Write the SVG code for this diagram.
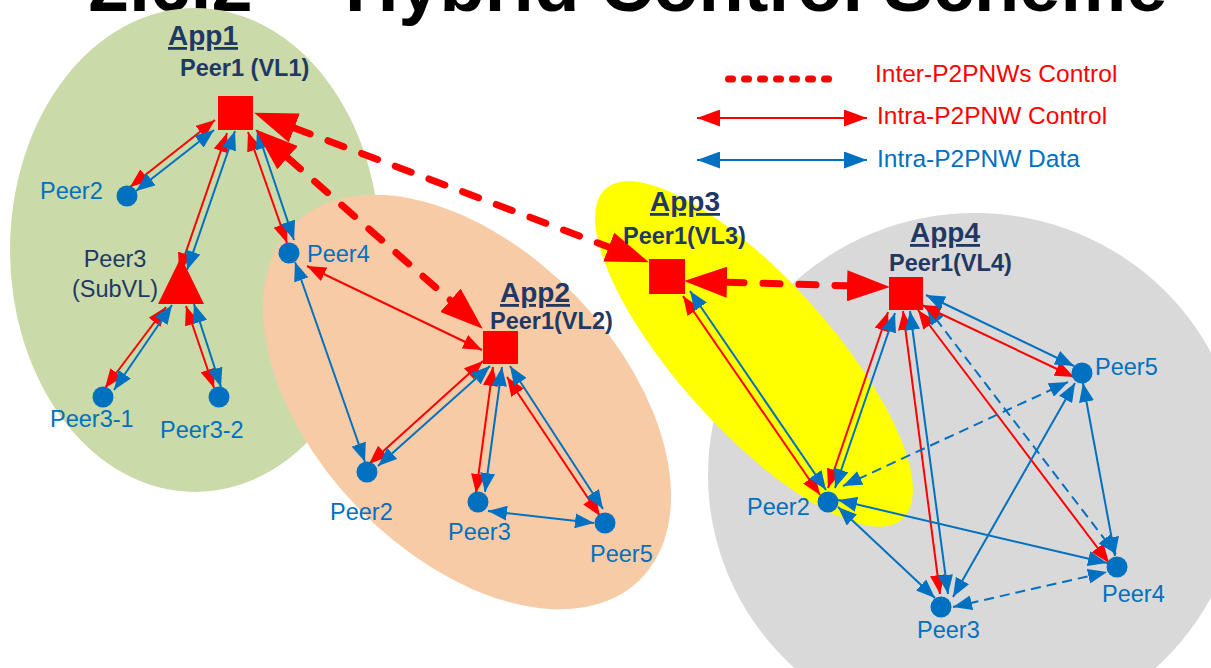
<svg xmlns="http://www.w3.org/2000/svg" width="1211" height="668" viewBox="0 0 1211 668">
<style>
.lbl{font-family:"Liberation Sans",Arial,sans-serif;font-size:23.5px;fill:#0070C0}
.nv{font-family:"Liberation Sans",Arial,sans-serif;font-size:23.5px;fill:#1F3864}
.app{font-family:"Liberation Sans",Arial,sans-serif;font-size:28px;font-weight:bold;fill:#1F3864;text-decoration:underline}
.vl{font-family:"Liberation Sans",Arial,sans-serif;font-size:23.5px;font-weight:bold;fill:#1F3864}
.leg{font-family:"Liberation Sans",Arial,sans-serif;font-size:24.5px}
.r{stroke:#FF0000;stroke-width:2;fill:none;marker-start:url(#rh);marker-end:url(#rh)}
.b{stroke:#0070C0;stroke-width:2;fill:none;marker-start:url(#bh);marker-end:url(#bh)}
.bd{stroke-dasharray:10 6}
.inter{stroke:#FF0000;stroke-width:7;stroke-linecap:round;stroke-dasharray:17 19;fill:none;marker-start:url(#ih);marker-end:url(#ih)}
.sq{fill:#FF0000}
.dot{fill:#0070C0}
</style>
<defs>
<marker id="rh" viewBox="0 0 19 15" markerWidth="19" markerHeight="15" refX="19" refY="7.5" orient="auto-start-reverse" markerUnits="userSpaceOnUse"><path d="M0,0L19,7.5L0,15z" fill="#FF0000"/></marker>
<marker id="bh" viewBox="0 0 19 15" markerWidth="19" markerHeight="15" refX="19" refY="7.5" orient="auto-start-reverse" markerUnits="userSpaceOnUse"><path d="M0,0L19,7.5L0,15z" fill="#0070C0"/></marker>
<marker id="ih" viewBox="0 0 43 31" markerWidth="43" markerHeight="31" refX="0" refY="15.5" orient="auto-start-reverse" markerUnits="userSpaceOnUse"><path d="M0,0L43,15.5L0,31z" fill="#FF0000"/></marker>
<marker id="rl" viewBox="0 0 23 17" markerWidth="23" markerHeight="17" refX="23" refY="8.5" orient="auto-start-reverse" markerUnits="userSpaceOnUse"><path d="M0,0L23,8.5L0,17z" fill="#FF0000"/></marker>
<marker id="bl" viewBox="0 0 23 17" markerWidth="23" markerHeight="17" refX="23" refY="8.5" orient="auto-start-reverse" markerUnits="userSpaceOnUse"><path d="M0,0L23,8.5L0,17z" fill="#0070C0"/></marker>
</defs>
<rect width="1211" height="668" fill="#FFFFFF"/>
<text font-family="Liberation Sans, Arial, sans-serif" font-size="74" font-weight="bold" fill="#000000" y="11"><tspan x="88">2.6.2</tspan><tspan x="345">Hybrid Control Scheme</tspan></text>
<g id="regions">
<ellipse id="app1-region" cx="195" cy="250" rx="185" ry="242" fill="#CADAA9"/>
<ellipse id="app2-region" cx="467" cy="402" rx="248" ry="152" transform="rotate(46 467 402)" fill="#F8CBA7"/>
<ellipse id="app4-region" cx="975" cy="475" rx="267" ry="262" fill="#D9D9D9"/>
<ellipse id="app3-region" cx="754" cy="354" rx="222" ry="76" transform="rotate(48 754 354)" fill="#FFFF00"/>
</g>
<g id="legend">
<line x1="728.5" y1="79" x2="832" y2="79" stroke="#FF0000" stroke-width="7" stroke-linecap="round" stroke-dasharray="4 12"/>
<text class="leg" x="875" y="82" fill="#FF0000">Inter-P2PNWs Control</text>
<line x1="697" y1="118" x2="867" y2="118" stroke="#FF0000" stroke-width="2" marker-start="url(#rl)" marker-end="url(#rl)"/>
<text class="leg" x="877" y="124" fill="#FF0000">Intra-P2PNW Control</text>
<line x1="697" y1="160" x2="867" y2="160" stroke="#0070C0" stroke-width="2" marker-start="url(#bl)" marker-end="url(#bl)"/>
<text class="leg" x="877" y="167" fill="#0070C0">Intra-P2PNW Data</text>
</g>
<g id="connectors">
<line class="r" x1="215" y1="120" x2="130" y2="187"/>
<line class="b" x1="214" y1="130" x2="136" y2="191"/>
<line class="r" x1="227" y1="133" x2="179" y2="272"/>
<line class="b" x1="235" y1="131" x2="187" y2="270"/>
<line class="r" x1="248" y1="132" x2="287" y2="243"/>
<line class="b" x1="257" y1="130" x2="294" y2="240"/>
<line class="r" x1="166" y1="307" x2="105" y2="388"/>
<line class="b" x1="172" y1="305" x2="114" y2="390"/>
<line class="r" x1="186" y1="306" x2="214" y2="388"/>
<line class="b" x1="194" y1="304" x2="221" y2="387"/>
<line class="r" x1="307" y1="266" x2="482" y2="350"/>
<line class="b" x1="295" y1="262" x2="365" y2="462"/>
<line class="r" x1="483" y1="361" x2="369" y2="464"/>
<line class="b" x1="490" y1="366" x2="378" y2="466"/>
<line class="r" x1="493" y1="367" x2="476" y2="493"/>
<line class="b" x1="502" y1="367" x2="485" y2="492"/>
<line class="r" x1="507" y1="377" x2="600" y2="516"/>
<line class="b" x1="510" y1="366" x2="603" y2="509"/>
<line class="b" x1="488" y1="511" x2="594" y2="523"/>
<line class="r" x1="683" y1="296" x2="820" y2="495"/>
<line class="b" x1="690" y1="291" x2="826" y2="490"/>
<line class="r" x1="888" y1="312" x2="828" y2="488"/>
<line class="b" x1="895" y1="313" x2="835" y2="488"/>
<line class="r" x1="903" y1="311" x2="940" y2="594"/>
<line class="b" x1="910" y1="311" x2="948" y2="594"/>
<line class="r" x1="918" y1="310" x2="1109" y2="563"/>
<line class="b bd" x1="926" y1="306" x2="1116" y2="554"/>
<line class="r" x1="922" y1="305" x2="1074" y2="377"/>
<line class="b" x1="926" y1="295" x2="1074" y2="366"/>
<line class="b bd" x1="843" y1="486" x2="1068" y2="382"/>
<line class="b" x1="838" y1="500" x2="1107" y2="563"/>
<line class="b" x1="838" y1="507" x2="935" y2="598"/>
<line class="b" x1="953" y1="597" x2="1075" y2="383"/>
<line class="b" x1="1083" y1="383" x2="1115" y2="556"/>
<line class="b bd" x1="953" y1="607" x2="1107" y2="572"/>
<line class="inter" x1="294.3" y1="127.9" x2="608.7" y2="247.1"/>
<line class="inter" x1="287.6" y1="157.7" x2="450.4" y2="300.3"/>
<line class="inter" x1="727" y1="282.2" x2="847" y2="285.8"/>
</g>
<g id="app1-peer1"><rect class="sq" x="218" y="96" width="35" height="34"/><text class="app" x="168" y="45">App1</text><text class="vl" x="180" y="76">Peer1 (VL1)</text></g>
<g id="app1-peer2"><circle class="dot" cx="127" cy="196" r="10.5"/><text class="lbl" x="40" y="199">Peer2</text></g>
<g id="app1-peer3"><polygon points="181,257 158,304 204,304" fill="#FF0000"/><text class="nv" x="115" y="267" text-anchor="middle">Peer3</text><text class="nv" x="115" y="297" text-anchor="middle">(SubVL)</text></g>
<g id="app1-peer3-1"><circle class="dot" cx="103" cy="397" r="10.5"/><text class="lbl" x="50" y="427">Peer3-1</text></g>
<g id="app1-peer3-2"><circle class="dot" cx="219" cy="397" r="10.5"/><text class="lbl" x="160" y="438">Peer3-2</text></g>
<g id="peer4-app1-app2"><circle class="dot" cx="289" cy="253" r="10.5"/><text class="lbl" x="307" y="262">Peer4</text></g>
<g id="app2-peer1"><rect class="sq" x="483" y="331" width="35" height="33"/><text class="app" x="500" y="302">App2</text><text class="vl" x="490" y="329">Peer1(VL2)</text></g>
<g id="app2-peer2"><circle class="dot" cx="367" cy="472" r="10.5"/><text class="lbl" x="330" y="520">Peer2</text></g>
<g id="app2-peer3"><circle class="dot" cx="478" cy="502" r="10.5"/><text class="lbl" x="448" y="540">Peer3</text></g>
<g id="app2-peer5"><circle class="dot" cx="605" cy="523" r="10.5"/><text class="lbl" x="590" y="562">Peer5</text></g>
<g id="app3-peer1"><rect class="sq" x="649" y="259" width="36" height="35"/><text class="app" x="650" y="211">App3</text><text class="vl" x="623" y="244">Peer1(VL3)</text></g>
<g id="peer2-app3-app4"><circle class="dot" cx="828" cy="502" r="10.5"/><text class="lbl" x="747" y="515">Peer2</text></g>
<g id="app4-peer1"><rect class="sq" x="889" y="277" width="34" height="33"/><text class="app" x="910" y="242">App4</text><text class="vl" x="889" y="271">Peer1(VL4)</text></g>
<g id="app4-peer5"><circle class="dot" cx="1082" cy="373" r="10.5"/><text class="lbl" x="1095" y="375">Peer5</text></g>
<g id="app4-peer4"><circle class="dot" cx="1117" cy="567" r="10.5"/><text class="lbl" x="1102" y="602">Peer4</text></g>
<g id="app4-peer3"><circle class="dot" cx="941" cy="607" r="10.5"/><text class="lbl" x="917" y="638">Peer3</text></g>
</svg>
